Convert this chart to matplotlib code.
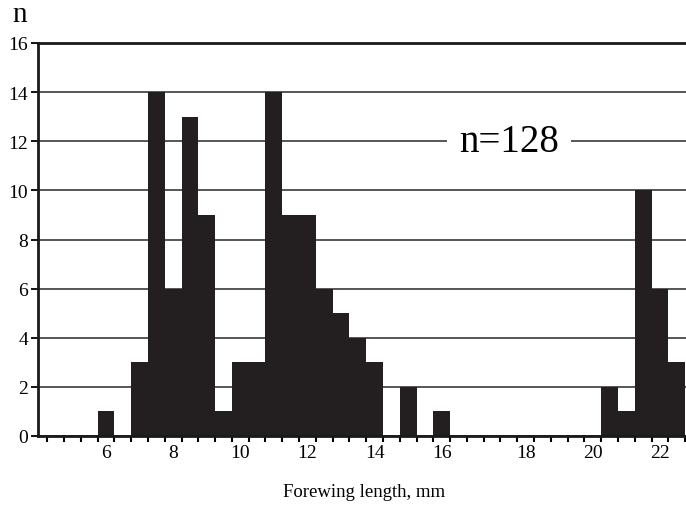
import numpy as np
import matplotlib.pyplot as plt

# counts per 0.5 mm bin (bin index 0..37, left to right)
counts = [0, 0, 0, 1, 0, 3, 14, 6, 13, 9,
          1, 3, 3, 14, 9, 9, 6, 5, 4, 3,
          0, 2, 0, 1, 0, 0, 0, 0, 0, 0,
          0, 0, 0, 2, 1, 10, 6, 3]
# labelled bins on the x axis
label_bins = [3, 7, 11, 15, 19, 23, 28, 32, 36]
label_text = ['6', '8', '10', '12', '14', '16', '18', '20', '22']
y_ticks = [0, 2, 4, 6, 8, 10, 12, 14, 16]

plt.rcParams['font.family'] = ['Liberation Serif', 'DejaVu Serif']

fig = plt.figure(figsize=(6.86, 5.06), dpi=100)
ax = fig.add_axes([38 / 686, 1 - 437 / 506, 1 - 38 / 686, (437 - 44) / 506])

x = np.arange(len(counts))
ax.bar(x, counts, width=1.0, color='#231f20', edgecolor='none', zorder=2)

ax.set_xlim(-1.05, 37.55)
ax.set_ylim(0, 16)

# grid lines behind the bars
ax.set_axisbelow(True)
ax.yaxis.grid(True, color='#3a3a3a', linewidth=1.2)
ax.set_yticks(y_ticks)
ax.tick_params(axis='y', direction='out', length=5, width=1.3, pad=2, labelsize=14)

ax.set_xticks(label_bins)
ax.set_xticklabels(label_text)
ax.set_xticks(np.arange(len(counts) + 1) - 0.5, minor=True)
ax.tick_params(axis='x', which='major', length=0, pad=6, labelsize=14)
ax.tick_params(axis='x', which='minor', direction='out', length=4, width=1.5)

for side in ['left', 'bottom', 'top']:
    ax.spines[side].set_linewidth(2.0)
    ax.spines[side].set_color('#1a1a1a')
ax.spines['right'].set_visible(False)

ax.text(27.0, 12, 'n=128', fontsize=28, ha='center', va='center',
        bbox=dict(facecolor='white', edgecolor='none', pad=9), zorder=3)

fig.text(20 / 686, 1 - 15 / 506, 'n', fontsize=21, ha='center', va='center')
fig.text(364 / 686, 1 - 493 / 506, 'Forewing length, mm', fontsize=13.5,
         ha='center', va='center')

fig.savefig('out.png', dpi=100)
